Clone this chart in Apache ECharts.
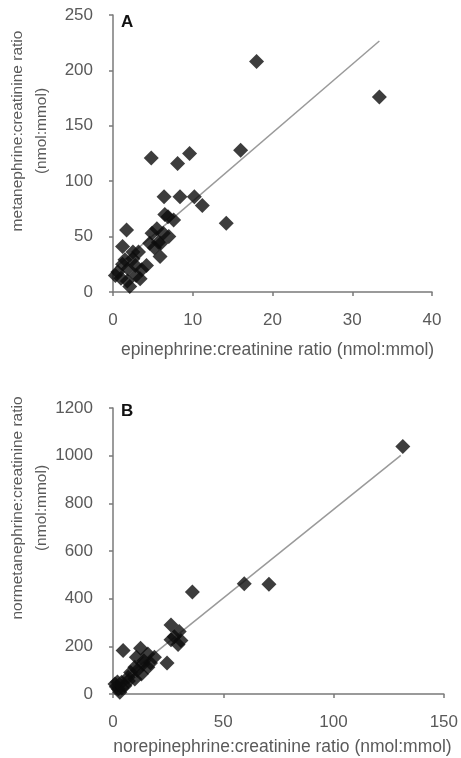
<!DOCTYPE html>
<html>
<head>
<meta charset="utf-8">
<script src="https://cdn.jsdelivr.net/npm/echarts@6/dist/echarts.min.js"></script>
<style>
  html, body { margin: 0; padding: 0; background: #fff; }
  #main { width: 461px; height: 758px; }
</style>
</head>
<body>
<div id="main"></div>
<script>
// panel A: epinephrine vs metanephrine (x, y)
const pointsA = [
  [33.4, 176], [18, 208], [16, 128], [9.6, 125], [4.8, 121], [8.1, 116],
  [6.4, 86], [8.4, 86], [10.2, 86], [11.2, 78], [14.2, 62],
  [6.5, 70], [7.6, 65], [6.9, 68], [1.7, 56], [5.5, 57], [4.9, 53], [6.3, 53],
  [5.7, 45], [7.0, 50], [4.6, 44], [6.0, 44], [5.2, 40],
  [1.2, 41], [2.5, 36], [3.2, 36], [5.9, 32], [4.2, 24], [1.5, 29], [0.6, 18],
  [1.9, 21], [0.3, 15], [2.1, 5], [3.4, 12], [1.0, 12.5], [2.8, 24], [3.6, 20],
  [1.8, 10], [2.5, 30], [1.2, 25], [2.9, 15]
]
const trendA = [[0.3, 22], [33.4, 226.5]]

// panel B: norepinephrine vs normetanephrine (x, y)
const pointsB = [
  [131.4, 1038], [59.5, 463], [70.7, 460], [36, 428],
  [26.3, 290], [30, 262], [27.8, 240], [30.8, 224], [26.3, 228], [29.5, 208],
  [4.6, 182], [12.5, 192], [15.8, 168], [18.8, 154], [24.5, 130], [10.6, 154],
  [13.6, 126], [15.8, 112], [9.9, 112], [12.9, 84], [6.9, 70], [9.9, 63],
  [3.9, 49], [0.9, 42], [2.4, 21], [5.4, 35], [3.1, 7], [1.5, 30], [8, 90],
  [11, 100], [7, 55], [4, 25], [2, 50], [14, 140], [17, 130]
]
const trendB = [[0.9, 37], [130.5, 1001]]

const ticksA_x = { min: 0, max: 40, interval: 10 }
const ticksA_y = { min: 0, max: 250, interval: 50 }
const ticksB_x = { min: 0, max: 150, interval: 50 }
const ticksB_y = { min: 0, max: 1200, interval: 200 }

var chart = echarts.init(document.getElementById('main'))

const txt = '#5a5a5a'
const axisCol = '#7a7a7a'
const font = 'Liberation Sans, Arial, sans-serif'

function axis(t, extra) {
  return Object.assign({
    type: 'value',
    min: t.min,
    max: t.max,
    interval: t.interval,
    splitLine: { show: false },
    axisLine: { show: true, lineStyle: { color: axisCol, width: 1.5 } },
    axisTick: { show: true, length: 4, lineStyle: { color: axisCol, width: 1.5 } },
    axisLabel: {
      color: txt, fontSize: 17, fontFamily: font, margin: 20,
      formatter: v => String(v)
    }
  }, extra)
}

var option = {
  animation: false,
  grid: [
    { left: 113, top: 15, width: 319, height: 277 },
    { left: 113, top: 408, width: 335, height: 286 }
  ],
  xAxis: [
    axis(ticksA_x, {
      gridIndex: 0,
      name: 'epinephrine:creatinine ratio (nmol:mmol)',
      nameLocation: 'middle',
      nameGap: 49,
      nameTextStyle: { color: txt, fontSize: 17.5, fontFamily: font, padding: [0, 0, 0, 10] }
    }),
    axis(ticksB_x, {
      gridIndex: 1,
      name: 'norepinephrine:creatinine ratio (nmol:mmol)',
      nameLocation: 'middle',
      nameGap: 44,
      nameTextStyle: { color: txt, fontSize: 17.5, fontFamily: font, padding: [0, 0, 0, 8] }
    })
  ],
  yAxis: [
    axis(ticksA_y, { gridIndex: 0 }),
    axis(ticksB_y, { gridIndex: 1 })
  ],
  graphic: [
    {
      type: 'text', x: 30, y: 131, rotation: Math.PI / 2,
      style: {
        text: 'metanephrine:creatinine ratio\n(nmol:mmol)',
        fill: txt, font: '15.5px ' + font, lineHeight: 24,
        textAlign: 'center', textVerticalAlign: 'middle'
      }
    },
    {
      type: 'text', x: 30, y: 508, rotation: Math.PI / 2,
      style: {
        text: 'normetanephrine:creatinine ratio\n(nmol:mmol)',
        fill: txt, font: '15.5px ' + font, lineHeight: 24,
        textAlign: 'center', textVerticalAlign: 'middle'
      }
    },
    {
      type: 'text', left: 121, top: 14,
      style: { text: 'A', fill: '#111', font: 'bold 17px ' + font }
    },
    {
      type: 'text', left: 121, top: 403,
      style: { text: 'B', fill: '#111', font: 'bold 17px ' + font }
    }
  ],
  series: [
    {
      type: 'line', xAxisIndex: 0, yAxisIndex: 0, data: trendA,
      symbol: 'none', lineStyle: { color: '#9a9a9a', width: 1.5 }, z: 1
    },
    {
      type: 'scatter', xAxisIndex: 0, yAxisIndex: 0, data: pointsA,
      symbol: 'diamond', symbolSize: 15, itemStyle: { color: '#0d0d0d' }, z: 2
    },
    {
      type: 'line', xAxisIndex: 1, yAxisIndex: 1, data: trendB,
      symbol: 'none', lineStyle: { color: '#9a9a9a', width: 1.5 }, z: 1
    },
    {
      type: 'scatter', xAxisIndex: 1, yAxisIndex: 1, data: pointsB,
      symbol: 'diamond', symbolSize: 15, itemStyle: { color: '#0d0d0d' }, z: 2
    }
  ]
}

chart.setOption(option)
</script>
</body>
</html>
